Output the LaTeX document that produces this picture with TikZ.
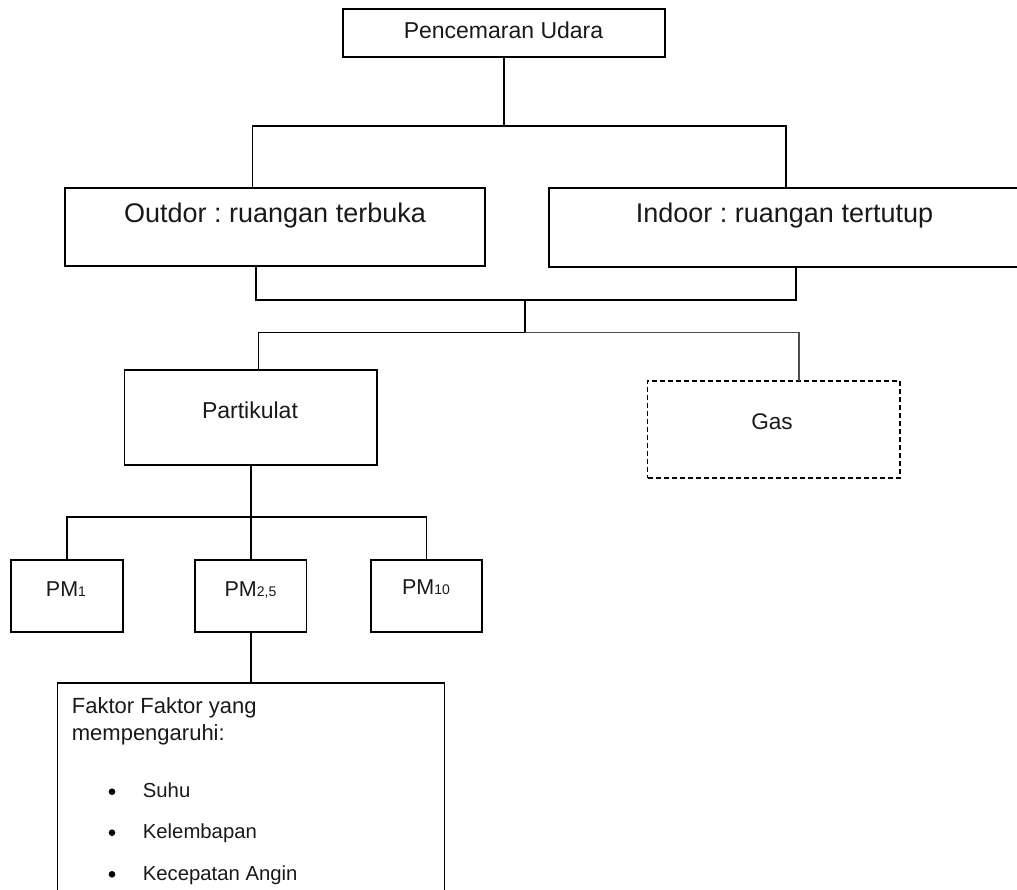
\documentclass[tikz,border=0pt]{standalone}
\usepackage{fontspec}
\setmainfont{Liberation Sans}
\frenchspacing
\begin{document}
\begin{tikzpicture}[x=1pt,y=-1pt,
  box/.style={draw=black, line width=1.6pt, rectangle, inner sep=0pt, outer sep=0pt, anchor=north west},
  dbox/.style={box, line width=1.3pt, dash pattern=on 5pt off 3pt},
  conn/.style={draw=black, line width=1.6pt},
  lbl/.style={inner sep=0pt, anchor=base, text=black!90},
  lblw/.style={lbl, anchor=base west}]
\useasboundingbox (0,0) rectangle (1017,890);
\clip (0,0) rectangle (1017,890);
% boxes
\node[box, minimum width=322.3pt, minimum height=48pt] (top) at (342.7,9.3) {};
\node[box, minimum width=420pt, minimum height=78pt] (out) at (65,188) {};
\node[box, minimum width=476pt, minimum height=79pt] (ind) at (549,188.3) {};
\node[box, minimum width=252.4pt, minimum height=95pt] (part) at (124.5,370) {};
\node[dbox, minimum width=252.3pt, minimum height=97pt] (gas) at (647.7,381) {};
\node[box, minimum width=112pt, minimum height=72pt] (pm1) at (11,560) {};
\node[box, minimum width=111.4pt, minimum height=72pt] (pm25) at (195,560) {};
\node[box, minimum width=111.3pt, minimum height=72pt] (pm10) at (370.7,560) {};
\node[box, minimum width=387pt, minimum height=250pt] (fak) at (57.3,683) {};
% texts
\node[lbl, font=\fontsize{23}{27}\selectfont] (top-t) at (503.5,38.3) {Pencemaran Udara};
\node[lbl, font=\fontsize{27}{32}\selectfont] (out-t) at (275,222.7) {Outdor : ruangan terbuka};
\node[lbl, font=\fontsize{27}{32}\selectfont] (ind-t) at (784.5,222.7) {Indoor : ruangan tertutup};
\node[lbl, font=\fontsize{23}{27}\selectfont] (part-t) at (250,418) {Partikulat};
\node[lbl, font=\fontsize{22.6}{27}\selectfont] (gas-t) at (772,429) {Gas};
\node[lbl, font=\fontsize{21.5}{26}\selectfont] (pm1-t) at (66,596) {PM{\fontsize{14}{14}\selectfont 1}};
\node[lbl, font=\fontsize{21.5}{26}\selectfont] (pm25-t) at (250.5,596) {PM{\fontsize{14}{14}\selectfont 2,5}};
\node[lbl, font=\fontsize{21.5}{26}\selectfont] (pm10-t) at (426,594) {PM{\fontsize{14}{14}\selectfont 10}};
\node[lblw, font=\fontsize{22}{27}\selectfont] (fak-t1) at (71.7,713.3) {Faktor Faktor yang};
\node[lblw, font=\fontsize{22}{27}\selectfont] (fak-t2) at (71.7,740) {mempengaruhi:};
\node[lblw, font=\fontsize{20.3}{24}\selectfont] (b1) at (142.7,797.3) {Suhu};
\node[lblw, font=\fontsize{20.3}{24}\selectfont] (b2) at (142.7,838.3) {Kelembapan};
\node[lblw, font=\fontsize{20.3}{24}\selectfont] (b3) at (142.7,880) {Kecepatan Angin};
\fill[black] (112,791.7) circle (3.3pt) (112,832.7) circle (3.3pt) (112,874.3) circle (3.3pt);
% connectors
\coordinate (jo) at (252.5,126);
\coordinate (ji) at (786,126);
\coordinate (oN) at (252.5,188);
\coordinate (iN) at (786,188.3);
\draw[conn] (top.south) -- (top.south |- jo);
\draw[conn] (oN) -- (jo) -- (ji) -- (iN);
\coordinate (oS) at (256,266);
\coordinate (o2) at (256,300);
\coordinate (iS) at (795.7,267.3);
\coordinate (i2) at (795.7,300);
\draw[conn] (oS) -- (o2) -- (i2) -- (iS);
\coordinate (m1) at (525,300);
\coordinate (m2) at (525,332.7);
\draw[conn] (m1) -- (m2);
\coordinate (pN) at (258.6,370);
\coordinate (p2) at (258.6,332.7);
\coordinate (g2) at (799,332.7);
\coordinate (gN) at (799,381);
\draw[conn] (pN) -- (p2) -- (m2);
\draw[conn, draw=black!70] (m2) -- (g2) -- (gN);
\coordinate (k) at (250.7,516.7);
\draw[conn] (part.south) -- (pm25.north);
\draw[conn] (pm1.north) -- (pm1.north |- k) -| (pm10.north);
\draw[conn] (pm25.south) -- (pm25.south |- fak.north);
\end{tikzpicture}
\end{document}
